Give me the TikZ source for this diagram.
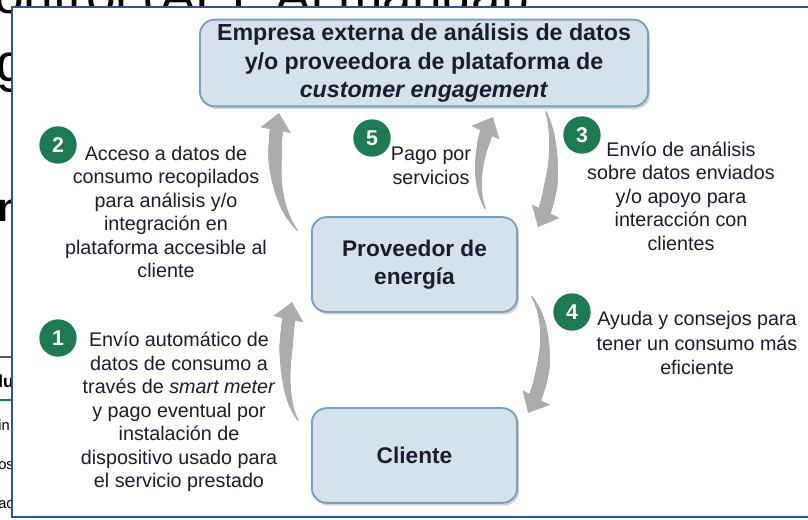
\documentclass[tikz,border=0pt]{standalone}
\usepackage{fontspec}
\setmainfont{Liberation Sans}
\usetikzlibrary{arrows.meta,shadows,decorations.markings}

\definecolor{cajafondo}{RGB}{213,226,233}
\definecolor{cajaborde}{RGB}{122,160,188}
\definecolor{pasoverde}{RGB}{30,122,82}
\definecolor{flechagris}{RGB}{172,172,172}
\definecolor{marcoazul}{RGB}{47,85,140}
\definecolor{texto}{RGB}{28,28,48}

\tikzset{
  caja/.style={draw=cajaborde, line width=1.4pt, fill=cajafondo, rounded corners=11pt,
    align=center, text=texto, inner sep=0pt,
    font=\bfseries\fontsize{17}{21.4}\selectfont,
    drop shadow={shadow xshift=1.5pt, shadow yshift=-2pt, opacity=.35}},
  paso/.style={circle, fill=pasoverde, text=white, inner sep=0pt, minimum size=28pt,
    font=\bfseries\fontsize{16}{16}\selectfont},
  nota/.style={align=center, text=texto, inner sep=0pt, font=\fontsize{14.8}{17.6}\selectfont},
  pincel/.style={decorate, decoration={markings,
    mark=between positions 0 and -11pt step 0.7pt with {
      \pgfmathsetmacro\radio{min(4.9, 0.7+0.075*\pgfkeysvalueof{/pgf/decoration/mark info/distance from start})}
      \fill[flechagris] (0,0) circle[radius=\radio pt];},
    mark=at position 1 with {\arrow[flechagris]{Triangle[width=23pt,length=13pt]}}}},
}

\begin{document}
\begin{tikzpicture}[x=0.75pt, y=-0.75pt]
\useasboundingbox (0,0) rectangle (808,520);

% restos de la diapositiva de atras
\begin{scope}
  \clip (0,0) rectangle (808,520);
  \node[anchor=base west, inner sep=0pt, font=\fontsize{40}{40}\selectfont] (fondo1) at (-6,14) {ontrol (API, Al manual)};
  \node[anchor=base west, inner sep=0pt, font=\fontsize{40}{40}\selectfont] (fondo2) at (-4,82) {g};
  \node[anchor=base west, inner sep=0pt, font=\bfseries\fontsize{30}{30}\selectfont] (fondo3) at (-3,222) {n};
  \draw[gray!70!black, line width=0.8pt] (0,357) -- (14,357);
  \node[anchor=base west, inner sep=0pt, font=\bfseries\fontsize{13}{13}\selectfont] (fondo4) at (-2,388) {lu};
  \draw[pasoverde, line width=1.5pt] (0,400) -- (14,400);
  \node[anchor=base west, inner sep=0pt, font=\fontsize{11}{11}\selectfont] (fondo5) at (-2,431) {in};
  \node[anchor=base west, inner sep=0pt, font=\fontsize{11}{11}\selectfont] (fondo6) at (-2,470) {os};
  \node[anchor=base west, inner sep=0pt, font=\fontsize{11}{11}\selectfont] (fondo7) at (-2,509) {ac};
\end{scope}

% marco
\fill[white] (12,7) rectangle (812,517);
\draw[marcoazul, line width=1.6pt] (812,7) -- (12,7) -- (12,517) -- (812,517);

% cajas
\node[caja, minimum width=336pt, minimum height=65pt, font=\bfseries\fontsize{17.4}{21.4}\selectfont] (empresa) at (424,63)
  {Empresa externa de análisis de datos\\y/o proveedora de plataforma de\\\textit{customer engagement}};
\node[caja, minimum width=154pt, minimum height=71pt] (proveedor) at (414.5,264.5)
  {Proveedor de\\energía};
\node[caja, minimum width=154pt, minimum height=71pt] (cliente) at (414.5,455.5)
  {Cliente};

% flechas
\coordinate (f1-s) at (298,420); \coordinate (f1-a) at (281,395);
\coordinate (f1-b) at (284,340); \coordinate (f1-e) at (292,302);
\coordinate (f2-s) at (297,230); \coordinate (f2-a) at (272,200);
\coordinate (f2-b) at (272,150); \coordinate (f2-e) at (279,113);
\coordinate (f3-s) at (546,112); \coordinate (f3-a) at (557,140);
\coordinate (f3-b) at (556,190); \coordinate (f3-e) at (538,227);
\coordinate (f4-s) at (532,297); \coordinate (f4-a) at (549,322);
\coordinate (f4-b) at (550,372); \coordinate (f4-e) at (528,413);
\coordinate (f5-s) at (485,208); \coordinate (f5-a) at (474,185);
\coordinate (f5-b) at (478,148); \coordinate (f5-e) at (493,117);
\foreach \n in {1,...,5}
  \path[pincel] (f\n-s) .. controls (f\n-a) and (f\n-b) .. (f\n-e);

% pasos
\node[paso] (p1) at (58,338) {1};
\node[paso] (p2) at (58,145) {2};
\node[paso] (p3) at (582,135) {3};
\node[paso] (p4) at (572,312) {4};
\node[paso] (p5) at (372,138) {5};

% textos
\node[nota] (t1) at (179,412) {Envío automático de\\datos de consumo a\\través de \textit{smart meter}\\y pago eventual por\\instalación de\\dispositivo usado para\\el servicio prestado};
\node[nota] (t2) at (166,212) {Acceso a datos de\\consumo recopilados\\para análisis y/o\\integración en\\plataforma accesible al\\cliente};
\node[nota] (t3) at (681,196) {Envío de análisis\\sobre datos enviados\\y/o apoyo para\\interacción con\\clientes};
\node[nota, font=\fontsize{14.8}{18.5}\selectfont] (t4) at (697,343) {Ayuda y consejos para\\tener un consumo más\\eficiente};
\node[nota] (t5) at (431,166) {Pago por\\servicios};
\end{tikzpicture}
\end{document}
